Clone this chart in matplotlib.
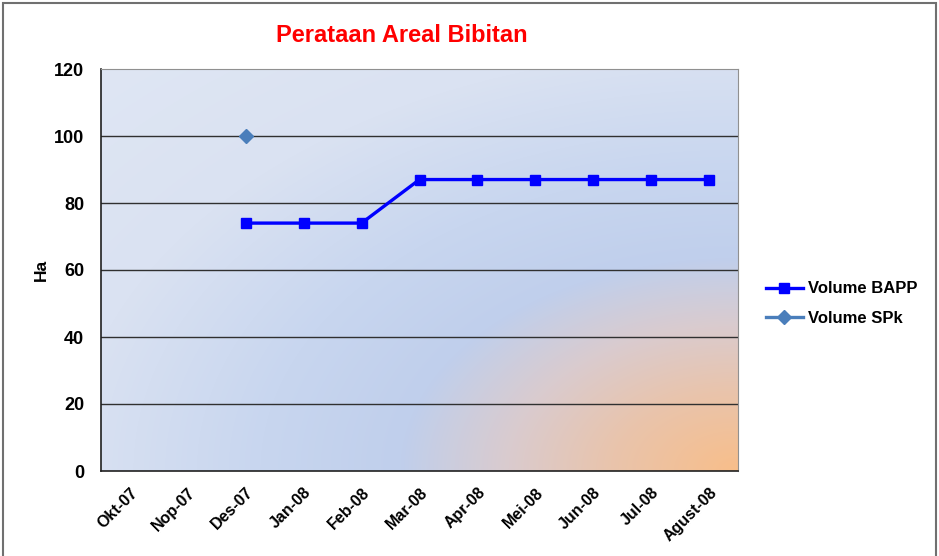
import numpy as np
import matplotlib
matplotlib.use("Agg")
import matplotlib.pyplot as plt
from matplotlib.patches import Rectangle
from matplotlib.transforms import ScaledTranslation

plt.rcParams['font.family'] = ['Liberation Sans', 'DejaVu Sans']
plt.rcParams['font.weight'] = 'bold'

months = ['Okt-07', 'Nop-07', 'Des-07', 'Jan-08', 'Feb-08', 'Mar-08',
          'Apr-08', 'Mei-08', 'Jun-08', 'Jul-08', 'Agust-08']
volume_bapp = [np.nan, np.nan, 74, 74, 74, 87, 87, 87, 87, 87, 87]
volume_spk = [np.nan, np.nan, 100, np.nan, np.nan, np.nan, np.nan, np.nan, np.nan, np.nan, np.nan]
y_ticks = [0, 20, 40, 60, 80, 100, 120]

fig = plt.figure(figsize=(9.39, 5.56), dpi=100)
fig.patches.append(Rectangle((3/939, -0.02), 933/939, 1.02 - 3/556, transform=fig.transFigure,
                             fill=False, edgecolor='#707070', linewidth=1.5))
ax = fig.add_axes([101/939, 85/556, 637/939, 402/556])

# radial background (orange bottom-right fading to blue)
w, h = 640, 400
xx, yy = np.meshgrid(np.linspace(0, 1, w), np.linspace(1, 0, h))
d = np.sqrt((1 - xx) ** 2 + yy ** 2)
stops = [0.0, 0.2, 0.36, 0.53, 0.75, 1.05, 1.5]
cols = np.array([[248, 190, 138], [233, 196, 172], [218, 203, 206], [192, 207, 236],
                 [200, 214, 239], [218, 226, 242], [224, 231, 244]]) / 255
img = np.dstack([np.interp(d, stops, cols[:, c]) for c in range(3)])
ax.imshow(img, extent=[-0.5, 10.5, 0, 120], aspect='auto', zorder=0, origin='upper')

x = np.arange(len(months))
ax.plot(x, volume_bapp, color='#0000ff', linewidth=2.4, marker='s', markersize=7.5,
        label='Volume BAPP', zorder=3)
ax.plot(x, volume_spk, color='#4a7ebb', linewidth=2.4, marker='D', markersize=6.8,
        label='Volume SPk', zorder=3)

ax.set_xlim(-0.5, 10.5)
ax.set_ylim(0, 120)
ax.set_yticks(y_ticks)
ax.set_yticklabels([str(v) for v in y_ticks], fontsize=13, fontweight='bold')
ax.set_xticks(x)
ax.set_xticklabels(months, fontsize=11.5, fontweight='bold', rotation=45,
                   ha='right', va='top', rotation_mode='anchor')
offset = ScaledTranslation(2/100, 0, fig.dpi_scale_trans)
for lab in ax.get_xticklabels():
    lab.set_transform(lab.get_transform() + offset)
ax.tick_params(axis='both', length=0)
ax.tick_params(axis='y', pad=12)
ax.tick_params(axis='x', pad=10)

for v in y_ticks[1:-1]:
    ax.axhline(v, color='#303030', linewidth=1, zorder=1)

for side in ['top', 'right']:
    ax.spines[side].set_color('#909090')
for side in ['left', 'bottom']:
    ax.spines[side].set_color('#202020')
    ax.spines[side].set_linewidth(1.2)

ax.set_ylabel('Ha', fontsize=12.5, fontweight='bold', labelpad=4)

fig.text(402/939, 1 - 36/556, 'Perataan Areal Bibitan', color='#ff0000',
         fontsize=17, fontweight='bold', ha='center', va='center')

ax.legend(loc='center left', bbox_to_anchor=(766/939, 1 - 303.5/556), bbox_transform=fig.transFigure,
          frameon=False, handlelength=2.2, labelspacing=0.85, handletextpad=0.3,
          borderpad=0, borderaxespad=0, prop={'weight': 'bold', 'size': 12})

fig.savefig('out.png', dpi=100)
